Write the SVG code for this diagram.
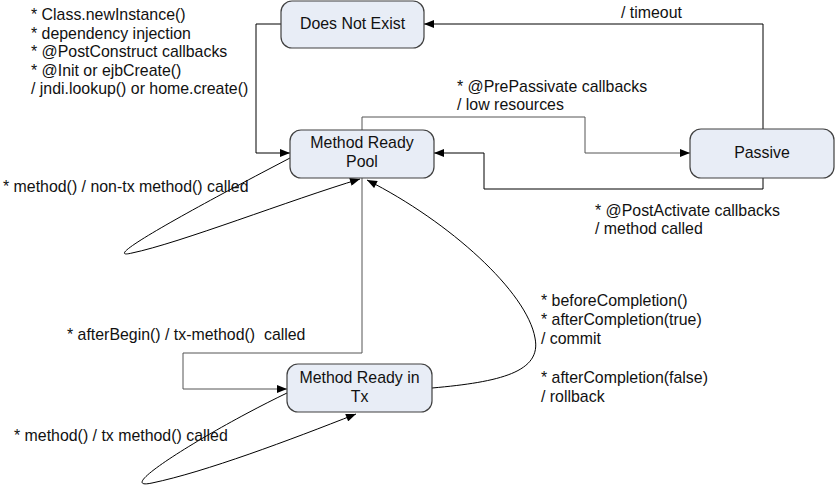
<svg xmlns="http://www.w3.org/2000/svg" width="835" height="485" viewBox="0 0 835 485">
<style>
.node rect{fill:#e8edf6;stroke:#404040;stroke-width:1.2}
text{font-family:"Liberation Sans",Arial,sans-serif;font-size:15.9px;fill:#111}
.c{text-anchor:middle}
.ln{fill:none;stroke:#000;stroke-width:1}
.g{stroke:#555}
</style>
<defs>
<marker id="a" viewBox="0 0 10 8" refX="10" refY="4" markerWidth="11" markerHeight="8" markerUnits="userSpaceOnUse" orient="auto">
<path d="M0,0 L10,4 L0,8 z" fill="#000"/>
</marker>
</defs>
<rect width="835" height="485" fill="#fff"/>
<g id="connectors">
<polyline class="ln" points="763,129 763,24 424,24" marker-end="url(#a)"/>
<polyline class="ln" points="281,24 256,24 256,153 290,153" marker-end="url(#a)"/>
<polyline class="ln g" points="362,130 362,117 585,117 585,153 690,153" marker-end="url(#a)"/>
<polyline class="ln" points="763,178 763,189 484,189 484,153 434,153" marker-end="url(#a)"/>
<path class="ln" d="M290,158 C200,205 95,262 132,253 C180,243 290,200 360,179" marker-end="url(#a)"/>
<polyline class="ln g" points="362,178 362,353 183,353 183,389 287,389" marker-end="url(#a)"/>
<path class="ln" d="M432,388 C500,382 542,372 535,338 C527,292 450,222 367,180" marker-end="url(#a)"/>
<path class="ln" d="M287,393 C210,430 110,492 152,483 C205,472 290,440 356,414" marker-end="url(#a)"/>
</g>
<g id="n-dne" class="node"><rect x="281" y="1" width="143" height="47" rx="11"/><text class="c" x="352.5" y="29">Does Not Exist</text></g>
<g id="n-pool" class="node"><rect x="290" y="130" width="144" height="48" rx="11"/><text class="c" x="362" y="148">Method Ready</text><text class="c" x="362" y="167">Pool</text></g>
<g id="n-tx" class="node"><rect x="287" y="364" width="145" height="48" rx="11"/><text class="c" x="359.5" y="383">Method Ready in</text><text class="c" x="359.5" y="402">Tx</text></g>
<g id="n-passive" class="node"><rect x="690" y="129" width="144" height="49" rx="11"/><text class="c" x="762" y="158">Passive</text></g>
<g id="labels">
<text x="31" y="20">* Class.newInstance()</text>
<text x="31" y="38.5">* dependency injection</text>
<text x="31" y="57">* @PostConstruct callbacks</text>
<text x="31" y="75.5">* @Init or ejbCreate()</text>
<text x="31" y="94">/ jndi.lookup() or home.create()</text>
<text x="621" y="18">/ timeout</text>
<text x="457" y="92">* @PrePassivate callbacks</text>
<text x="457" y="110">/ low resources</text>
<text x="595" y="216">* @PostActivate callbacks</text>
<text x="595" y="234">/ method called</text>
<text x="3" y="192">* method() / non-tx method() called</text>
<text x="67" y="340" xml:space="preserve">* afterBegin() / tx-method()  called</text>
<text x="541" y="306">* beforeCompletion()</text>
<text x="541" y="325">* afterCompletion(true)</text>
<text x="541" y="344">/ commit</text>
<text x="541" y="383">* afterCompletion(false)</text>
<text x="541" y="402">/ rollback</text>
<text x="14" y="441">* method() / tx method() called</text>
</g>
</svg>
